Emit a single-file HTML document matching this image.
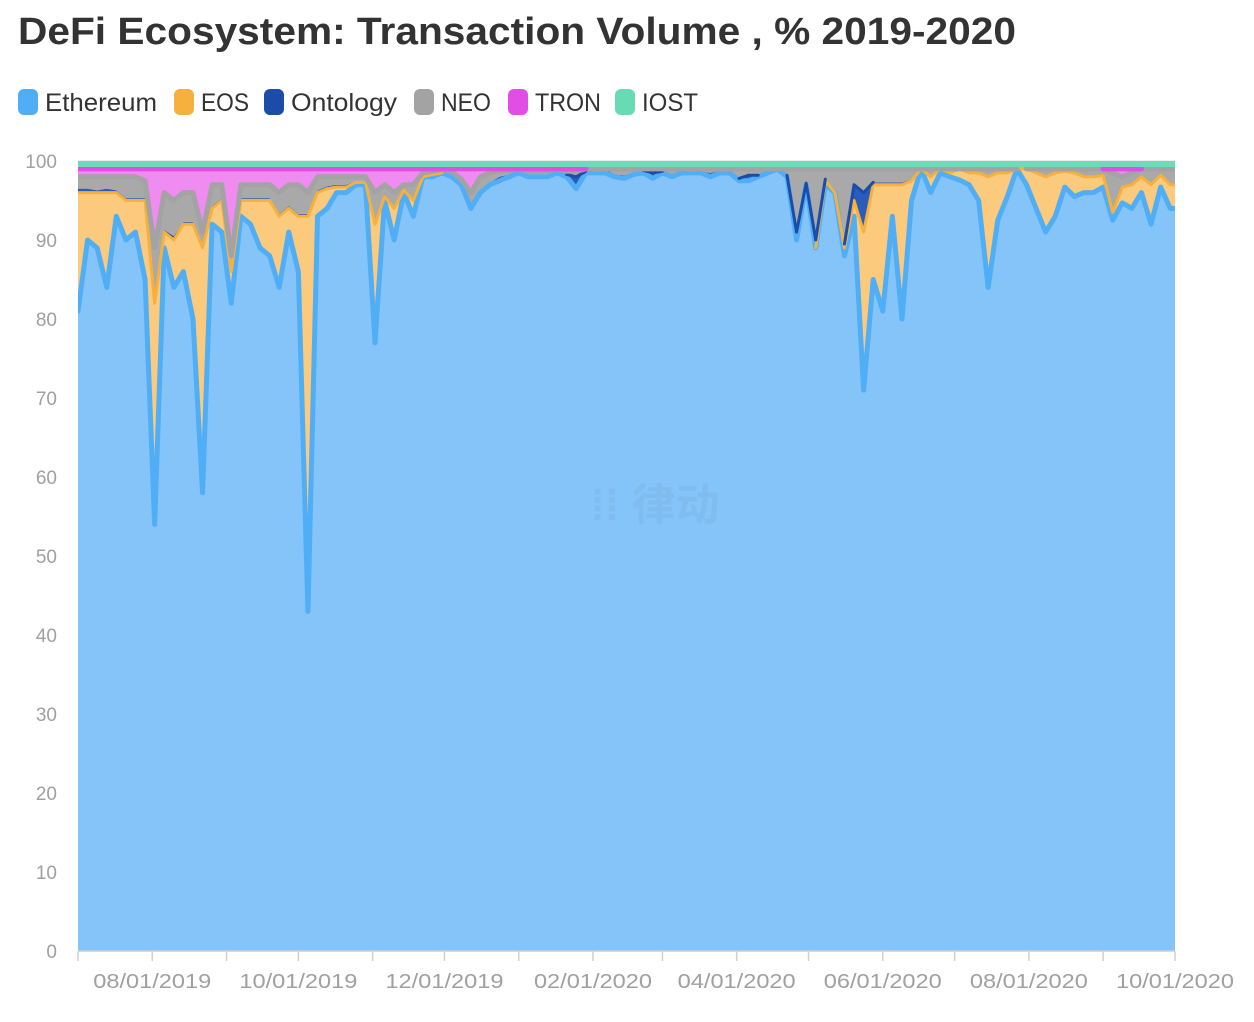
<!DOCTYPE html>
<html><head><meta charset="utf-8"><style>
html,body{margin:0;padding:0;background:#fff;}
svg{display:block;font-family:"Liberation Sans","Noto Sans CJK SC",sans-serif;}
</style></head><body>
<svg id="chart" width="1254" height="1022" viewBox="0 0 1254 1022">
<text x="18" y="44" font-size="38" font-weight="bold" fill="#333" textLength="998" lengthAdjust="spacingAndGlyphs">DeFi Ecosystem: Transaction Volume , % 2019-2020</text>
<g id="legend"></g>
<g id="grid"></g>
<g id="areas"></g>
<text x="590" y="520" font-size="44" font-weight="bold" fill="#7aaee0" opacity="0.35">⁞⁞ 律动</text>
<g id="axes"></g>
</svg>
<script>
const seriesNames = ["Ethereum","EOS","Ontology","NEO","TRON","IOST"];
const startDate = "07/01/2019";
const dayStep = 4;
const eth = [81,90,89,84,93,90,91,85,54,89,84,86,80,58,92,91,82,93,92,89,88,84,91,86,43,93,94,96,96,97,97,77,95,90,96,93,98,98,98.5,98,97,94,96,97,97.5,98,98.5,98,98,98,98.5,98,96.5,98.5,98.5,98.5,98,97.8,98.3,98.5,97.8,98.5,98,98.5,98.5,98.5,98,98.5,98.5,97.5,97.5,98,98.5,99,98,90,97,89,97,96,88,93,71,85,81,93,80,95,99,96,98.5,98,97.6,97,95,84,92.5,95.5,99,97,94,91,93,96.7,95.5,96,96,96.7,92.5,94.7,94,96,92,96.7,94];
const eos = [15,6,7,12,3,5,4,10,28,2,6,6,12,31,2,4,4,2,3,6,7,9,3,7,50,3,2.5,0.7,0.7,0.3,0.3,15,0.5,4,0.3,2,0,0.3,0,0,0,0,0,0,0,0,0,0,0,0,0,0,0,0,0,0,0,0,0,0,0,0,0,0,0,0,0,0,0,0,0,0,0,0,0,0,0,0,0.5,0,1,2,20,12,16,4,17,2.5,0,2,0.5,0.5,1.4,1.5,3.5,14,6,3,0,2,4.5,7,5.5,2,3,2,2,1.5,1,2,3,2,5,1.5,3];
const ont = [0.5,0.5,0.3,0.5,0.3,0.3,0.3,0.3,0.5,0.3,0.5,0.3,0.3,0.3,0.3,0.3,0.5,0.3,0.3,0.3,0.3,0.3,0.3,0.3,0.3,0.3,0.3,0.3,0.3,0.2,0.2,0.5,0.3,0.3,0.2,0.3,0.1,0.1,0.1,0.2,0.1,0.2,0.2,0.3,0.5,0.3,0.2,0.3,0.3,0.3,0.2,0.3,1.5,0.2,0.2,0.5,0.3,0.4,0.2,0.3,0.7,0.2,0.2,0.2,0.3,0.2,0.5,0.3,0.2,0.3,0.7,0.2,0.2,0,0.2,1,0.2,1,0.2,0.3,0.5,2,5,0.3,0.3,0.3,0.3,0.2,0,0,0,0,0,0,0,0,0,0,0,0,0,0,0,0,0,0,0,0,0,0,0,0,0,0,0];
const neo = [1.5,1.5,1.7,1.5,1.7,2.7,2.7,2.2,6.5,4.7,4.5,3.7,3.7,1.7,2.7,1.7,1.5,1.7,1.7,1.7,1.7,2.7,2.7,3.7,2.7,1.7,1.2,1,1,0.5,0.5,3.5,1.2,1.7,0.5,1.7,0.4,0.3,0.3,0.5,0.6,1.8,1.8,1.2,0.8,0.5,0.3,0.4,0.4,0.5,0.3,0.4,0.7,0.3,0.3,0,0.7,0.8,0.5,0.2,0.5,0.3,0.8,0.3,0.2,0.3,0.5,0.2,0.3,1.2,0.8,0.8,0.3,0,0.8,8,1.8,9,1.3,2.7,9.5,2,3,1.7,1.7,1.7,1.7,1.3,0,1,0,0.5,0,0.5,0.5,1,0.5,0.5,0,0,0.5,1,0.5,0.3,0.5,1,1,0.8,5,1.3,1.5,1,2,0.8,2];
const tron = [1,1,1,1,1,1,1,1.5,10,3,4,3,3,8,2,2,11,2,2,2,2,3,2,2,3,1,1,1,1,1,1,3,2,3,2,2,0.5,0.3,0.1,0.3,1.3,3,1,0.5,0.2,0.2,0,0.3,0.3,0.2,0,0.3,0.3,0,0,0,0,0,0,0,0,0,0,0,0,0,0,0,0,0,0,0,0,0,0,0,0,0,0,0,0,0,0,0,0,0,0,0,0,0,0,0,0,0,0,0,0,0,0,0,0,0,0,0,0,0,0,0,0.5,1,0.5,0,0,0,0];
const iost = [1,1,1,1,1,1,1,1,1,1,1,1,1,1,1,1,1,1,1,1,1,1,1,1,1,1,1,1,1,1,1,1,1,1,1,1,1,1,1,1,1,1,1,1,1,1,1,1,1,1,1,1,1,1,1,1,1,1,1,1,1,1,1,1,1,1,1,1,1,1,1,1,1,1,1,1,1,1,1,1,1,1,1,1,1,1,1,1,1,1,1,1,1,1,1,1,1,1,1,1,1,1,1,1,1,1,1,1,1,1,1,1,1,1,1];
const yTicks = [0,10,20,30,40,50,60,70,80,90,100];
const monthTickDays = [0,31,62,92,123,153,184,215,244,275,305,336,366,397,428,458];
const monthLabels = ["08/01/2019","10/01/2019","12/01/2019","02/01/2020","04/01/2020","06/01/2020","08/01/2020","10/01/2020"];
const monthLabelDays = [31,92,153,215,275,336,397,458];

const NS="http://www.w3.org/2000/svg";
const X0=78,X1=1175,Y0=951,Y1=161,D1=458;
const xDay=d=>X0+(X1-X0)*d/D1;
const xIdx=i=>xDay(i*dayStep);
const y=v=>Y0-(Y0-Y1)*v/100;
function mk(tag,attrs,parent){const e=document.createElementNS(NS,tag);for(const k in attrs)e.setAttribute(k,attrs[k]);parent.appendChild(e);return e;}

const fills=["#85c4f8","#fbca7c","#2a5cbc","#a9a9a9","#f08cf1","#6bdcb7"];
const strokes=["#50aef7","#f6b03e","#1b4ca8","#a3a3a3","#e14de5","#68dab4"];
const widths=[5,3,3,5,5,5];
const minShow=[0,0.05,0.6,0.05,0.05,0];
const layers=[eth,eos,ont,neo,tron,iost];

// legend
const legend=document.getElementById('legend');
const lx=[18,174,264,414,508,615];
const lw=[112,48,106,50,66,56];
seriesNames.forEach((n,k)=>{
  const g=mk('g',{},legend);
  
  
  mk('rect',{x:lx[k],y:89,width:20,height:26,rx:6,fill:strokes[k]},g);
  const t=mk('text',{x:lx[k]+27,y:111,'font-size':25,fill:'#333',textLength:lw[k],lengthAdjust:'spacingAndGlyphs'},g);
  t.textContent=n;
});

// grid + y labels
const grid=document.getElementById('grid');
yTicks.forEach(v=>{
  const l=mk('line',{x1:X0,x2:X1,y1:y(v),y2:y(v),stroke:'#e6e6e6','stroke-width':1.5},grid);
  
  
  const t=mk('text',{x:57,y:y(v)+7,'font-size':19,fill:'#a0a0a0','text-anchor':'end'},grid);
  
  
  t.textContent=v;
});

// stacked areas
const areas=document.getElementById('areas');
const clip=mk('clipPath',{id:'pc'},mk('defs',{},areas));
mk('rect',{x:X0,y:Y1,width:X1-X0,height:Y0-Y1},clip);
const gA=mk('g',{'clip-path':'url(#pc)'},areas);
const gL=mk('g',{'clip-path':'url(#pc)'},areas);
const N=eth.length;
let lower=new Array(N).fill(0);
layers.forEach((arr,k)=>{
  const upper=lower.map((v,i)=>Math.min(100,v+arr[i]));
  if(k===layers.length-1){for(let i=0;i<N;i++)upper[i]=100;}
  let d='M'+xIdx(0)+','+y(upper[0]);
  for(let i=1;i<N;i++)d+='L'+xIdx(i)+','+y(upper[i]);
  d+='L'+X1+','+y(upper[N-1]);
  d+='L'+X1+','+y(lower[N-1]);
  for(let i=N-1;i>=0;i--)d+='L'+xIdx(i)+','+y(lower[i]);
  d+='Z';
  const p=mk('path',{d:d,fill:fills[k]},gA);
  
  
  if(k<layers.length-1){
    let ld='';let pen=false;
    for(let i=0;i<N-1;i++){
      if(k===0||arr[i]>minShow[k]||arr[i+1]>minShow[k]){
        if(!pen){ld+='M'+xIdx(i)+','+y(upper[i]);pen=true;}
        ld+='L'+xIdx(i+1)+','+y(upper[i+1]);
      } else pen=false;
    }
    if(pen)ld+='L'+X1+','+y(upper[N-1]);
    if(ld){
      const ln=mk('path',{d:ld,fill:'none',stroke:strokes[k],'stroke-width':widths[k],'stroke-linejoin':'round','stroke-linecap':'round'},gL);
      
      
    }
  }
  lower=upper;
});
const topBand=mk('rect',{x:X0,y:Y1,width:X1-X0,height:6,fill:'#6bdcb7'},gL);



// x axis
const axes=document.getElementById('axes');
const ax=mk('line',{x1:X0,x2:X1,y1:Y0,y2:Y0,stroke:'#d0d0d0','stroke-width':1.5},axes);


monthTickDays.forEach(d=>{
  const t=mk('line',{x1:xDay(d),x2:xDay(d),y1:Y0,y2:Y0+10,stroke:'#d0d0d0','stroke-width':1.5},axes);
  
  
});
monthLabels.forEach((s,k)=>{
  const t=mk('text',{x:xDay(monthLabelDays[k]),y:988,'font-size':20,fill:'#a0a0a0','text-anchor':'middle',textLength:118,lengthAdjust:'spacingAndGlyphs'},axes);
  
  
  t.textContent=s;
});
</script>
</body></html>
